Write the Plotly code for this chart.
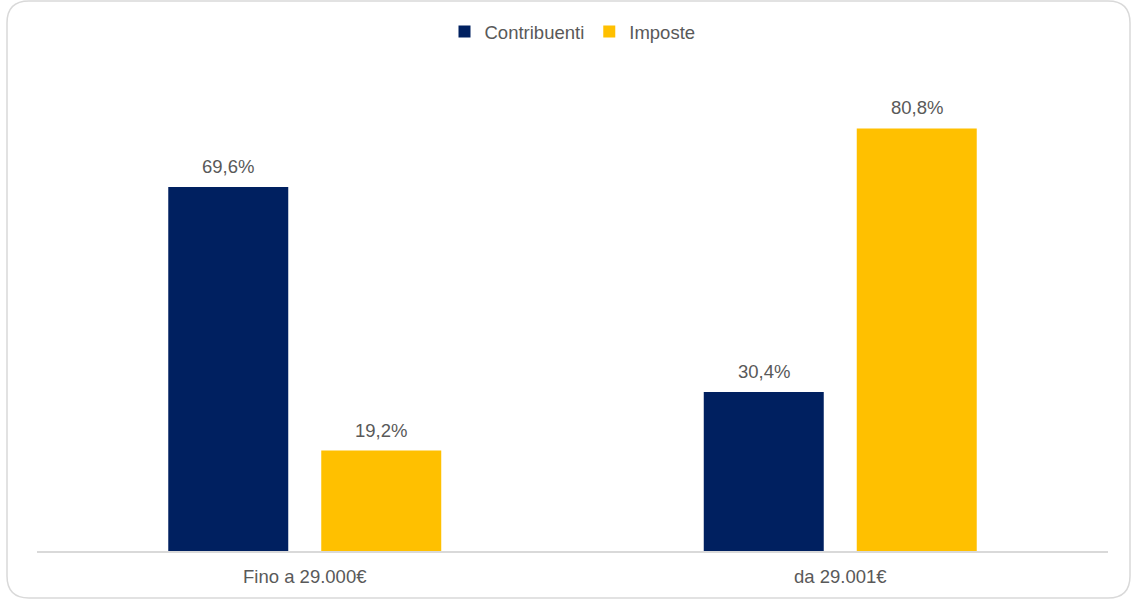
import plotly.graph_objects as go

# ─── Data ─────────────────────────────────────────────────────────────────────
categories = ['Fino a 29.000€', 'da 29.001€']
contribuenti = [69.6, 30.4]
imposte = [19.2, 80.8]

NAVY = '#002060'
GOLD = '#FFC000'
TEXT = '#595959'
GRID = '#D9D9D9'
FS = 18.5

W, H = 1132, 599
M = dict(l=37, r=24, t=60, b=48)
PW = W - M['l'] - M['r']
PH = H - M['t'] - M['b']


def px(x, y):
    """pixel -> paper coords"""
    return (x - M['l']) / PW, (H - M['b'] - y) / PH


def rounded_rect(x0, y0, x1, y1, r):
    def p(x, y):
        a, b = px(x, y)
        return f'{a:.5f},{b:.5f}'
    return (f'M{p(x0 + r, y0)} L{p(x1 - r, y0)} Q{p(x1, y0)} {p(x1, y0 + r)} '
            f'L{p(x1, y1 - r)} Q{p(x1, y1)} {p(x1 - r, y1)} '
            f'L{p(x0 + r, y1)} Q{p(x0, y1)} {p(x0, y1 - r)} '
            f'L{p(x0, y0 + r)} Q{p(x0, y0)} {p(x0 + r, y0)} Z')


fig = go.Figure()
fig.add_trace(go.Bar(x=categories, y=contribuenti, name='Contribuenti',
                     marker=dict(color=NAVY, line=dict(width=0))))
fig.add_trace(go.Bar(x=categories, y=imposte, name='Imposte',
                     marker=dict(color=GOLD, line=dict(width=0))))

# value labels above bars
for series, shift in [(contribuenti, -76.5), (imposte, 76.5)]:
    for cat, v in zip(categories, series):
        fig.add_annotation(x=cat, y=v, xshift=shift, yshift=8, yanchor='bottom',
                           text=f'{v:.1f}%'.replace('.', ','), showarrow=False,
                           font=dict(size=FS, color=TEXT))

fig.add_shape(type='path', xref='paper', yref='paper',
              path=rounded_rect(7, 1, 1130, 598, 22),
              line=dict(color=GRID, width=1.5), layer='below')

fig.update_layout(
    width=W, height=H, margin=M,
    paper_bgcolor='white', plot_bgcolor='white',
    font=dict(family='Liberation Sans, Arial, sans-serif', size=FS, color=TEXT),
    barmode='group', bargap=0.4286, bargroupgap=0.2157,
    showlegend=True,
    legend=dict(orientation='h', x=0.5, xanchor='center', y=px(0, 32)[1], yanchor='middle',
                font=dict(size=FS, color=TEXT), itemwidth=30, traceorder='normal'),
    xaxis=dict(showline=True, linecolor=GRID, linewidth=1.5, ticks='', showgrid=False,
               ticklabelstandoff=8, tickfont=dict(size=FS, color=TEXT)),
    yaxis=dict(range=[0, PH / 5.23], visible=False, showgrid=False, zeroline=False),
)

fig.write_html('out.html', config={'displayModeBar': False},
               post_script="document.body.style.margin='0';")
